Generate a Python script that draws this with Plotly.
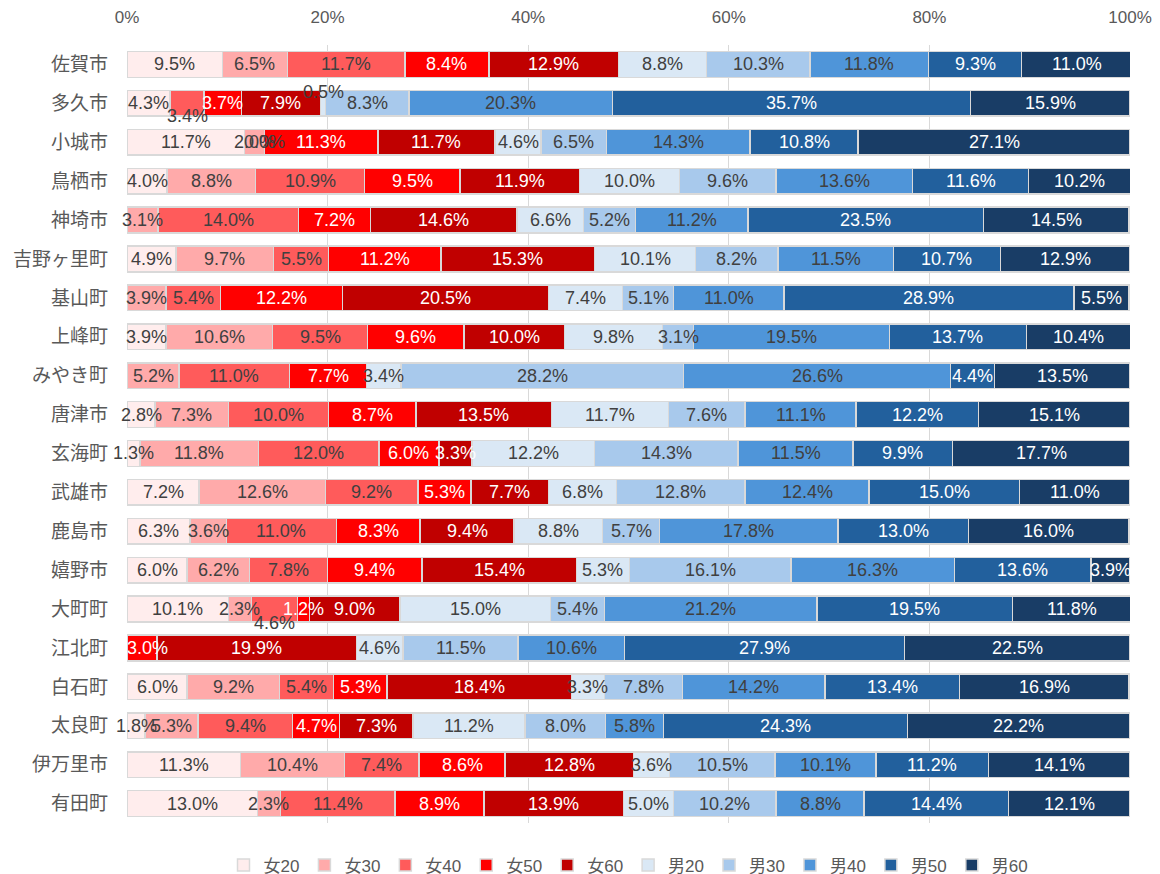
import plotly.graph_objects as go

categories = ["佐賀市", "多久市", "小城市", "鳥栖市", "神埼市", "吉野ヶ里町", "基山町", "上峰町", "みやき町", "唐津市",
              "玄海町", "武雄市", "鹿島市", "嬉野市", "大町町", "江北町", "白石町", "太良町", "伊万里市", "有田町"]
series_names = ["女20", "女30", "女40", "女50", "女60", "男20", "男30", "男40", "男50", "男60"]

f20 = [9.5, 4.3, 11.7, 4.0, None, 4.9, None, 3.9, None, 2.8, 1.3, 7.2, 6.3, 6.0, 10.1, None, 6.0, 1.8, 11.3, 13.0]
f30 = [6.5, None, 2.0, 8.8, 3.1, 9.7, 3.9, 10.6, 5.2, 7.3, 11.8, 12.6, 3.6, 6.2, 2.3, None, 9.2, 5.3, 10.4, 2.3]
f40 = [11.7, 3.4, 0.0, 10.9, 14.0, 5.5, 5.4, 9.5, 11.0, 10.0, 12.0, 9.2, 11.0, 7.8, 4.6, None, 5.4, 9.4, 7.4, 11.4]
f50 = [8.4, 3.7, 11.3, 9.5, 7.2, 11.2, 12.2, 9.6, 7.7, 8.7, 6.0, 5.3, 8.3, 9.4, 1.2, 3.0, 5.3, 4.7, 8.6, 8.9]
f60 = [12.9, 7.9, 11.7, 11.9, 14.6, 15.3, 20.5, 10.0, None, 13.5, 3.3, 7.7, 9.4, 15.4, 9.0, 19.9, 18.4, 7.3, 12.8, 13.9]
m20 = [8.8, 0.5, 4.6, 10.0, 6.6, 10.1, 7.4, 9.8, 3.4, 11.7, 12.2, 6.8, 8.8, 5.3, 15.0, 4.6, 3.3, 11.2, 3.6, 5.0]
m30 = [10.3, 8.3, 6.5, 9.6, 5.2, 8.2, 5.1, 3.1, 28.2, 7.6, 14.3, 12.8, 5.7, 16.1, 5.4, 11.5, 7.8, 8.0, 10.5, 10.2]
m40 = [11.8, 20.3, 14.3, 13.6, 11.2, 11.5, 11.0, 19.5, 26.6, 11.1, 11.5, 12.4, 17.8, 16.3, 21.2, 10.6, 14.2, 5.8, 10.1, 8.8]
m50 = [9.3, 35.7, 10.8, 11.6, 23.5, 10.7, 28.9, 13.7, 4.4, 12.2, 9.9, 15.0, 13.0, 13.6, 19.5, 27.9, 13.4, 24.3, 11.2, 14.4]
m60 = [11.0, 15.9, 27.1, 10.2, 14.5, 12.9, 5.5, 10.4, 13.5, 15.1, 17.7, 11.0, 16.0, 3.9, 11.8, 22.5, 16.9, 22.2, 14.1, 12.1]

tick_vals = [0, 20, 40, 60, 80, 100]
tick_text = ["0%", "20%", "40%", "60%", "80%", "100%"]

series_values = [f20, f30, f40, f50, f60, m20, m30, m40, m50, m60]
colors = ["#FFEDED", "#FFAAAA", "#FF5B5B", "#FF0000", "#C00000",
          "#DAE8F5", "#A8C9EC", "#4F95D9", "#22609D", "#193D66"]
text_colors = ["#404040", "#404040", "#404040", "#FFFFFF", "#FFFFFF",
               "#404040", "#404040", "#404040", "#FFFFFF", "#FFFFFF"]
# displacement (px) of a few crowded labels
label_yshift = {("多久市", "女40"): -13, ("多久市", "男20"): 11, ("大町町", "女40"): -14}
label_xshift = {("江北町", "女50"): 5}

LAT = "Liberation Sans, Arial, sans-serif"
CJK = "Noto Sans CJK JP, sans-serif"

fig = go.Figure()
for name, vals, col in zip(series_names, series_values, colors):
    fig.add_trace(go.Bar(
        name=name, y=categories, x=vals, orientation="h",
        marker=dict(color=col, line=dict(color="#D9D9D9", width=1.5)),
        hoverinfo="x+y+name",
    ))

annotations = []
for i, cat in enumerate(categories):
    cum = 0.0
    for name, vals, tcol in zip(series_names, series_values, text_colors):
        v = vals[i]
        if v is None:
            continue
        annotations.append(dict(
            x=cum + v / 2, y=cat, xref="x", yref="y", text=f"{v:.1f}%",
            showarrow=False, font=dict(family=LAT, size=18, color=tcol),
            yshift=label_yshift.get((cat, name), 0),
            xshift=label_xshift.get((cat, name), 0),
        ))
        cum += v

fig.update_layout(
    barmode="stack", bargap=0.34,
    width=1160, height=874,
    margin=dict(l=127, r=30, t=45, b=51, autoexpand=False),
    paper_bgcolor="white", plot_bgcolor="white",
    annotations=annotations,
    legend=dict(orientation="h", x=0.5, xanchor="center", y=-0.0546, yanchor="middle",
                traceorder="normal", itemwidth=30,
                font=dict(family="Liberation Sans, Noto Sans CJK JP, sans-serif", size=17, color="#595959")),
    showlegend=True,
)
fig.update_xaxes(side="top", range=[0, 100], tickvals=tick_vals, ticktext=tick_text,
                 showgrid=True, gridcolor="#D9D9D9", gridwidth=1.3, zeroline=False,
                 ticklabelstandoff=18, automargin=False,
                 tickfont=dict(family=LAT, size=17, color="#595959"), fixedrange=True)
fig.update_yaxes(autorange="reversed", showgrid=False, ticklabelstandoff=18, automargin=False,
                 tickfont=dict(family=CJK, size=19, color="#595959"), fixedrange=True)

fig.write_html("out.html", config={"displayModeBar": False},
               post_script="document.body.style.margin='0px';document.body.style.overflow='hidden';")
